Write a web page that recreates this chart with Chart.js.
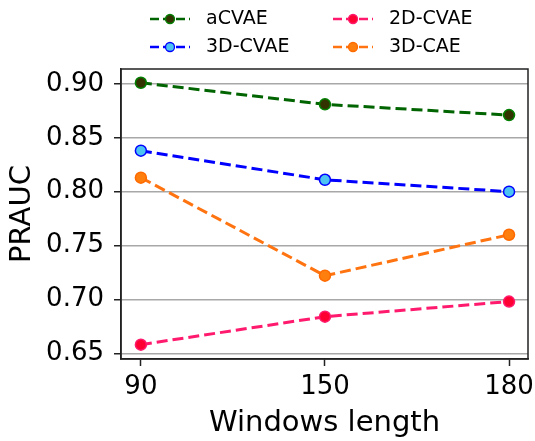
<!DOCTYPE html>
<html><head><meta charset="utf-8">
<script src="https://cdn.jsdelivr.net/npm/chart.js@4.4.0/dist/chart.umd.min.js"></script>
<style>html,body{margin:0;padding:0;background:#fff}#wrap{width:535px;height:441px}</style>
</head><body><div id="wrap"><canvas id="c" width="535" height="441"></canvas></div>
<script>
const categories = ['90', '150', '180'];
const seriesNames = ['aCVAE', '3D-CVAE', '2D-CVAE', '3D-CAE'];
const aCVAE = [0.901, 0.881, 0.871];
const cvae3d = [0.838, 0.811, 0.800];
const cvae2d = [0.658, 0.684, 0.698];
const cae3d = [0.813, 0.722, 0.760];
const yTicks = [0.65, 0.70, 0.75, 0.80, 0.85, 0.90];

const FONT = 'DejaVu Sans';
Chart.defaults.font.family = FONT;
Chart.defaults.color = '#000';

const styles = [
  {line: '#006400', fill: '#333300', edge: '#008000'},
  {line: '#0000ff', fill: '#4cc3f2', edge: '#0000ff'},
  {line: '#ff1a6e', fill: '#ff0033', edge: '#ff1a6e'},
  {line: '#ff7410', fill: '#ff7f0e', edge: '#ff6a00'}
];
const seriesValues = [aCVAE, cvae3d, cvae2d, cae3d];

const datasets = seriesValues.map((vals, k) => ({
  label: seriesNames[k],
  data: vals.map((v, i) => ({x: i, y: v})),
  borderColor: styles[k].line,
  borderWidth: 3,
  borderDash: [11, 5],
  pointRadius: 5.5,
  pointBorderWidth: 1.5,
  pointBackgroundColor: styles[k].fill,
  pointBorderColor: styles[k].edge,
  fill: false,
  tension: 0
}));

const framePlugin = {
  id: 'frame',
  afterDatasetsDraw(chart) {
    const {ctx, chartArea: a} = chart;
    ctx.save();
    ctx.strokeStyle = '#222';
    ctx.lineWidth = 1.5;
    ctx.strokeRect(a.left, a.top, a.right - a.left, a.bottom - a.top);
    ctx.restore();
  }
};

const legendPlugin = {
  id: 'customLegend',
  afterDraw(chart) {
    const ctx = chart.ctx;
    const colX = [150, 333];
    const rowY = [19, 47];
    chart.data.datasets.forEach((ds, i) => {
      const x = colX[Math.floor(i / 2)];
      const y = rowY[i % 2];
      ctx.save();
      ctx.strokeStyle = ds.borderColor;
      ctx.lineWidth = 2.6;
      ctx.setLineDash([9, 4]);
      ctx.beginPath();
      ctx.moveTo(x, y);
      ctx.lineTo(x + 40, y);
      ctx.stroke();
      ctx.setLineDash([]);
      ctx.beginPath();
      ctx.arc(x + 20, y, 4.5, 0, Math.PI * 2);
      ctx.fillStyle = ds.pointBackgroundColor;
      ctx.fill();
      ctx.lineWidth = 1.3;
      ctx.strokeStyle = ds.pointBorderColor;
      ctx.stroke();
      ctx.fillStyle = '#000';
      ctx.font = '19px "' + FONT + '"';
      ctx.textBaseline = 'middle';
      ctx.textAlign = 'left';
      ctx.fillText(ds.label, x + 56, y);
      ctx.restore();
    });
  }
};

new Chart(document.getElementById('c'), {
  type: 'line',
  data: {datasets},
  options: {
    responsive: false,
    animation: false,
    devicePixelRatio: 1,
    layout: {padding: {top: 69, right: 6, left: 0, bottom: 0}},
    plugins: {legend: {display: false}, tooltip: {enabled: false}},
    scales: {
      x: {
        type: 'linear',
        min: -0.108, max: 2.103,
        afterBuildTicks: s => { s.ticks = categories.map((c, i) => ({value: i})); },
        afterFit: s => { s.height = 82; s.paddingLeft = 0; s.paddingRight = 0; },
        ticks: {font: {size: 26}, color: '#000', padding: 6, maxRotation: 0,
          callback: v => categories[v]},
        grid: {drawOnChartArea: false, drawTicks: true, tickLength: 7, tickColor: '#222', tickWidth: 1.5},
        border: {display: true, color: '#222', width: 1.5},
        title: {display: true, text: 'Windows length', font: {size: 29}, color: '#000', padding: {top: 2, bottom: 0}}
      },
      y: {
        min: 0.6447, max: 0.9138,
        afterBuildTicks: s => { s.ticks = yTicks.map(v => ({value: v})); },
        afterFit: s => { s.width = 121; s.paddingTop = 0; s.paddingBottom = 0; },
        ticks: {font: {size: 26}, color: '#000', padding: 10, callback: v => v.toFixed(2)},
        grid: {color: '#a8a8a8', lineWidth: 1.5, drawTicks: true, tickLength: 7, tickColor: '#222', tickWidth: 1.5},
        border: {display: true, color: '#222', width: 1.5},
        title: {display: true, text: 'PRAUC', font: {size: 29}, color: '#000', padding: {top: 5, bottom: 0}}
      }
    }
  },
  plugins: [framePlugin, legendPlugin]
});
</script>
</body></html>
